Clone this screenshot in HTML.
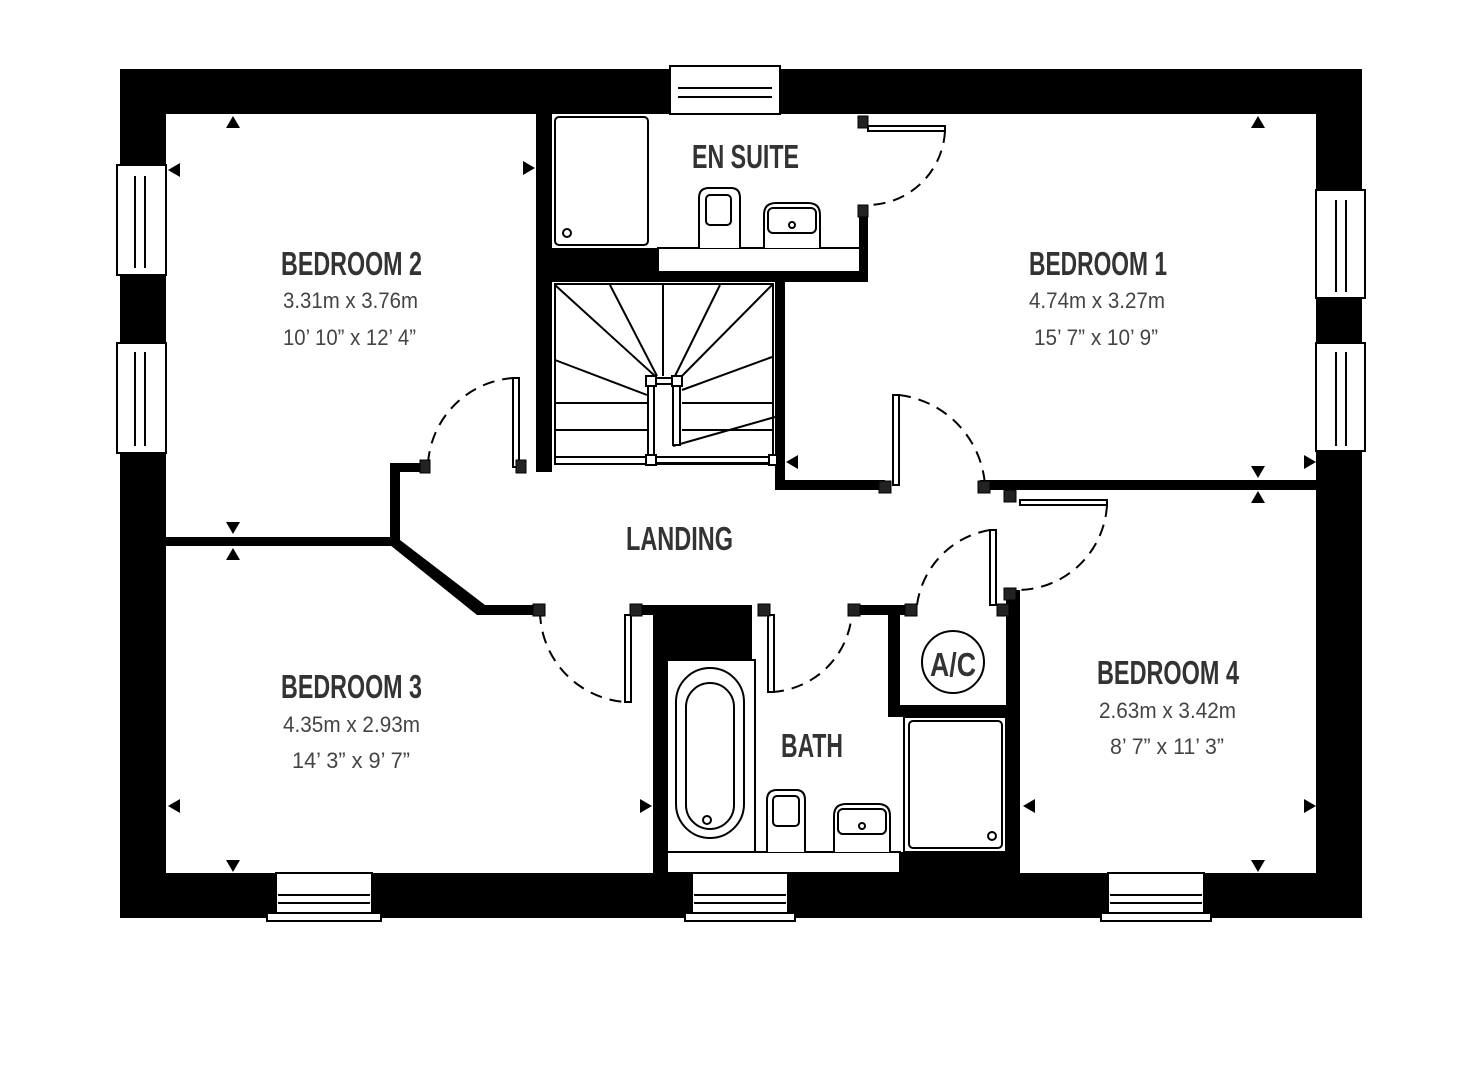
<!DOCTYPE html>
<html><head><meta charset="utf-8"><style>
html,body{margin:0;padding:0;background:#fff;}
svg{display:block;}
.t{font-family:"Liberation Sans",sans-serif;font-weight:bold;fill:#333;}
.d{font-family:"Liberation Sans",sans-serif;fill:#444;}
</style></head><body>
<svg width="1469" height="1091" viewBox="0 0 1469 1091" xmlns="http://www.w3.org/2000/svg">
<g fill="#000">
<!-- outer walls -->
<rect x="120" y="69" width="1242" height="45"/>
<rect x="120" y="873" width="1242" height="45"/>
<rect x="120" y="69" width="46" height="849"/>
<rect x="1316" y="69" width="46" height="849"/>
<!-- interior walls -->
<rect x="536" y="114" width="16" height="358"/>
<rect x="549" y="248" width="109" height="26"/>
<rect x="536" y="272" width="332" height="10"/>
<rect x="859" y="207" width="9" height="75"/>
<rect x="775" y="272" width="10" height="218"/>
<rect x="775" y="480" width="110" height="10"/>
<rect x="980" y="480" width="336" height="10"/>
<rect x="166" y="537" width="230" height="9"/>
<rect x="390" y="463" width="38" height="9"/>
<rect x="390" y="463" width="10" height="82"/>
<polygon points="390,540 400,540 485,605 485,615 477,615 390,545"/>
<rect x="477" y="605" width="63" height="10"/>
<rect x="632" y="605" width="23" height="10"/>
<rect x="653" y="605" width="99" height="55"/>
<rect x="653" y="605" width="14" height="268"/>
<rect x="852" y="605" width="63" height="10"/>
<rect x="888" y="605" width="12" height="112"/>
<rect x="888" y="705" width="130" height="12"/>
<rect x="1006" y="590" width="14" height="283"/>
<rect x="900" y="852" width="120" height="21"/>
</g>
<!-- windows -->
<g fill="#fff" stroke="#000" stroke-width="2">
<rect x="670" y="66" width="110" height="48"/>
<line x1="678" y1="88" x2="772" y2="88"/><line x1="678" y1="97" x2="772" y2="97"/>
<rect x="117" y="165" width="49" height="110"/>
<line x1="135" y1="176" x2="135" y2="268"/><line x1="145" y1="176" x2="145" y2="268"/>
<rect x="117" y="343" width="49" height="110"/>
<line x1="135" y1="352" x2="135" y2="446"/><line x1="145" y1="352" x2="145" y2="446"/>
<rect x="1316" y="190" width="49" height="108"/>
<line x1="1336" y1="200" x2="1336" y2="292"/><line x1="1346" y1="200" x2="1346" y2="292"/>
<rect x="1316" y="343" width="49" height="108"/>
<line x1="1336" y1="352" x2="1336" y2="446"/><line x1="1346" y1="352" x2="1346" y2="446"/>
<rect x="276" y="873" width="96" height="46"/><rect x="267" y="913" width="114" height="8"/>
<line x1="278" y1="895" x2="370" y2="895"/><line x1="278" y1="903" x2="370" y2="903"/>
<rect x="692" y="873" width="96" height="46"/><rect x="685" y="913" width="110" height="8"/>
<line x1="694" y1="895" x2="786" y2="895"/><line x1="694" y1="903" x2="786" y2="903"/>
<rect x="1108" y="873" width="96" height="46"/><rect x="1101" y="913" width="110" height="8"/>
<line x1="1110" y1="895" x2="1202" y2="895"/><line x1="1110" y1="903" x2="1202" y2="903"/>
</g>
<!-- fixtures -->
<g fill="#fff" stroke="#000" stroke-width="2">
<rect x="555" y="117" width="93" height="128" rx="4"/>
<circle cx="567" cy="233" r="4"/>
<rect x="658" y="248" width="202" height="24"/>
<path d="M699,248 V198 Q699,188 709,188 H731 Q740,188 740,198 V248"/>
<rect x="706" y="195" width="25" height="30" rx="4"/>
<path d="M764,248 V215 Q764,203 776,203 H808 Q820,203 820,215 V248"/>
<rect x="768" y="208" width="48" height="25" rx="5"/>
<circle cx="792" cy="225" r="3"/>
<!-- stairs -->
<rect x="555" y="284" width="218" height="180"/>
<path d="M555,285 L655,376 M610,285 L657,376 M663,285 L663,376 M720,285 L675,376 M772,285 L680,378 M555,360 L647,395 M772,357 L682,390 M555,403 H647 M682,403 H772 M555,430 H647 M682,430 H772 M673,446 L775,417 M555,457 H647" fill="none"/>
<rect x="648" y="386" width="6" height="69"/><rect x="673" y="386" width="7" height="59"/>
<rect x="656" y="457" width="115" height="6"/><rect x="656" y="378" width="16" height="6"/>
<rect x="646" y="376" width="10" height="10"/><rect x="672" y="376" width="10" height="10"/>
<rect x="646" y="455" width="10" height="10"/><rect x="769" y="455" width="8" height="10"/>
<!-- bath -->
<rect x="667" y="660" width="88" height="192"/>
<rect x="676" y="668" width="68" height="170" rx="34"/>
<rect x="686" y="683" width="48" height="146" rx="24"/>
<circle cx="707" cy="820" r="4"/>
<rect x="667" y="852" width="233" height="21"/>
<path d="M767,852 V800 Q767,790 777,790 H796 Q805,790 805,800 V852"/>
<rect x="773" y="796" width="26" height="30" rx="4"/>
<path d="M834,852 V816 Q834,804 846,804 H878 Q890,804 890,816 V852"/>
<rect x="838" y="809" width="48" height="25" rx="5"/>
<circle cx="862" cy="826" r="3"/>
<rect x="904" y="717" width="102" height="135"/>
<rect x="909" y="721" width="93" height="127" rx="4"/>
<circle cx="992" cy="836" r="4"/>
<circle cx="953" cy="662" r="31"/>
</g>
<!-- doors -->
<g fill="none" stroke="#000" stroke-width="2" stroke-dasharray="12,8">
<path d="M428,463 A92,92 0 0 1 513,378"/>
<path d="M945,131 A78,78 0 0 1 868,205"/>
<path d="M899,395 A98,98 0 0 1 985,485"/>
<path d="M1107,505 A90,90 0 0 1 1015,590"/>
<path d="M540,612 A92,92 0 0 0 625,702"/>
<path d="M772,692 A85,85 0 0 0 852,612"/>
<path d="M917,605 A88,88 0 0 1 990,530"/>
</g>
<g fill="#fff" stroke="#000" stroke-width="2">
<rect x="513" y="378" width="6" height="89"/>
<rect x="868" y="126" width="77" height="5"/>
<rect x="893" y="395" width="6" height="90"/>
<rect x="1020" y="500" width="87" height="5"/>
<rect x="625" y="615" width="6" height="87"/>
<rect x="768" y="615" width="6" height="77"/>
<rect x="990" y="530" width="6" height="75"/>
</g>
<g fill="#222" stroke="#000" stroke-width="1">
<rect x="420" y="460" width="10" height="13"/><rect x="516" y="460" width="10" height="13"/>
<rect x="858" y="116" width="10" height="12"/><rect x="858" y="205" width="10" height="12"/>
<rect x="879" y="481" width="12" height="12"/><rect x="978" y="481" width="12" height="12"/>
<rect x="1004" y="490" width="12" height="12"/><rect x="1004" y="588" width="12" height="12"/>
<rect x="533" y="604" width="12" height="12"/><rect x="630" y="604" width="12" height="12"/>
<rect x="758" y="604" width="12" height="12"/><rect x="848" y="604" width="12" height="12"/>
<rect x="905" y="604" width="12" height="12"/><rect x="997" y="604" width="12" height="12"/>
</g>
<!-- measurement markers -->
<g fill="#000">
<polygon points="226,128 240,128 233,116"/>
<polygon points="180,163 180,177 168,170"/>
<polygon points="523,161 523,175 535,168"/>
<polygon points="226,522 240,522 233,534"/>
<polygon points="226,560 240,560 233,548"/>
<polygon points="1251,128 1265,128 1258,116"/>
<polygon points="1304,455 1304,469 1316,462"/>
<polygon points="798,455 798,469 786,462"/>
<polygon points="1251,466 1265,466 1258,478"/>
<polygon points="1251,503 1265,503 1258,491"/>
<polygon points="180,799 180,813 168,806"/>
<polygon points="640,799 640,813 652,806"/>
<polygon points="226,860 240,860 233,872"/>
<polygon points="1035,799 1035,813 1023,806"/>
<polygon points="1304,799 1304,813 1316,806"/>
<polygon points="1251,860 1265,860 1258,872"/>
</g>
<!-- labels -->
<text class="t" x="281" y="275" font-size="33" textLength="141" lengthAdjust="spacingAndGlyphs">BEDROOM 2</text>
<text class="d" x="283" y="308" font-size="22" textLength="135" lengthAdjust="spacingAndGlyphs">3.31m x 3.76m</text>
<text class="d" x="283" y="345" font-size="22" textLength="133" lengthAdjust="spacingAndGlyphs">10’ 10” x 12’ 4”</text>
<text class="t" x="1029" y="275" font-size="33" textLength="138" lengthAdjust="spacingAndGlyphs">BEDROOM 1</text>
<text class="d" x="1029" y="308" font-size="22" textLength="136" lengthAdjust="spacingAndGlyphs">4.74m x 3.27m</text>
<text class="d" x="1034" y="345" font-size="22" textLength="124" lengthAdjust="spacingAndGlyphs">15’ 7” x 10’ 9”</text>
<text class="t" x="281" y="698" font-size="33" textLength="141" lengthAdjust="spacingAndGlyphs">BEDROOM 3</text>
<text class="d" x="283" y="732" font-size="22" textLength="137" lengthAdjust="spacingAndGlyphs">4.35m x 2.93m</text>
<text class="d" x="292" y="768" font-size="22" textLength="118" lengthAdjust="spacingAndGlyphs">14’ 3” x 9’ 7”</text>
<text class="t" x="1097" y="684" font-size="33" textLength="142" lengthAdjust="spacingAndGlyphs">BEDROOM 4</text>
<text class="d" x="1099" y="718" font-size="22" textLength="137" lengthAdjust="spacingAndGlyphs">2.63m x 3.42m</text>
<text class="d" x="1110" y="754" font-size="22" textLength="114" lengthAdjust="spacingAndGlyphs">8’ 7” x 11’ 3”</text>
<text class="t" x="692" y="168" font-size="33" textLength="107" lengthAdjust="spacingAndGlyphs">EN SUITE</text>
<text class="t" x="626" y="550" font-size="33" textLength="107" lengthAdjust="spacingAndGlyphs">LANDING</text>
<text class="t" x="781" y="757" font-size="33" textLength="62" lengthAdjust="spacingAndGlyphs">BATH</text>
<text class="t" x="930" y="676" font-size="33" textLength="46" lengthAdjust="spacingAndGlyphs">A/C</text>
</svg>
</body></html>
